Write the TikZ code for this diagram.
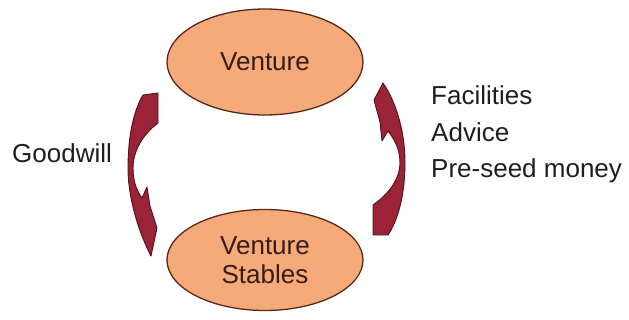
\documentclass[tikz,border=0pt]{standalone}
\usepackage{fontspec}
\setmainfont{Liberation Sans}
\usetikzlibrary{shapes.geometric}
\definecolor{ovalfill}{RGB}{246,170,122}
\definecolor{ovaledge}{RGB}{85,40,25}
\definecolor{arrowfill}{RGB}{155,35,55}
\definecolor{arrowedge}{RGB}{80,18,25}
\definecolor{txt}{RGB}{30,30,30}
\definecolor{ovaltxt}{RGB}{55,28,22}
\tikzset{
  oval/.style={ellipse, draw=ovaledge, line width=1.3pt, fill=ovalfill,
    minimum width=196pt, inner sep=0pt, align=center, text=ovaltxt,
    font=\fontsize{26}{29}\selectfont},
  label/.style={anchor=base west, inner sep=0pt, text=txt,
    font=\fontsize{26}{30}\selectfont},
  blockarrow/.style={fill=arrowfill, draw=arrowedge, line width=0.9pt, line join=round}
}
\begin{document}
\begin{tikzpicture}[x=1pt,y=-1pt]
\useasboundingbox (0,0) rectangle (629,320);
\node[oval, minimum height=106pt] (venture) at (265,62) {Venture};
\node[oval, minimum height=101pt] (stables) at (265,260) {Venture\\Stables};
% left curved arrow (Goodwill, downward)
\draw[blockarrow] (143,95) -- (158,93) -- (158,123)
  .. controls (142,135) and (133,152) .. (133,168)
  .. controls (133,182) and (137,191) .. (142,198)
  -- (147,187) -- (150,206) -- (157,228) -- (151,256)
  .. controls (140,235) and (128,200) .. (128,168)
  .. controls (128,135) and (134,110) .. (143,95) -- cycle;
% right curved arrow (upward)
\draw[blockarrow] (388,235) -- (373,235) -- (373,205)
  .. controls (390,193) and (400,178) .. (400,163)
  .. controls (400,150) and (395,140) .. (388,131)
  -- (382,141) -- (380,122) -- (374,100) -- (383,83)
  .. controls (395,100) and (405,130) .. (405,162)
  .. controls (405,195) and (398,220) .. (388,235) -- cycle;
\node[label] (goodwill) at (12,163) {Goodwill};
\node[label] (facilities) at (431,105) {Facilities};
\node[label] (advice) at (431,142) {Advice};
\node[label] (preseed) at (431,178) {Pre-seed money};
\end{tikzpicture}
\end{document}
